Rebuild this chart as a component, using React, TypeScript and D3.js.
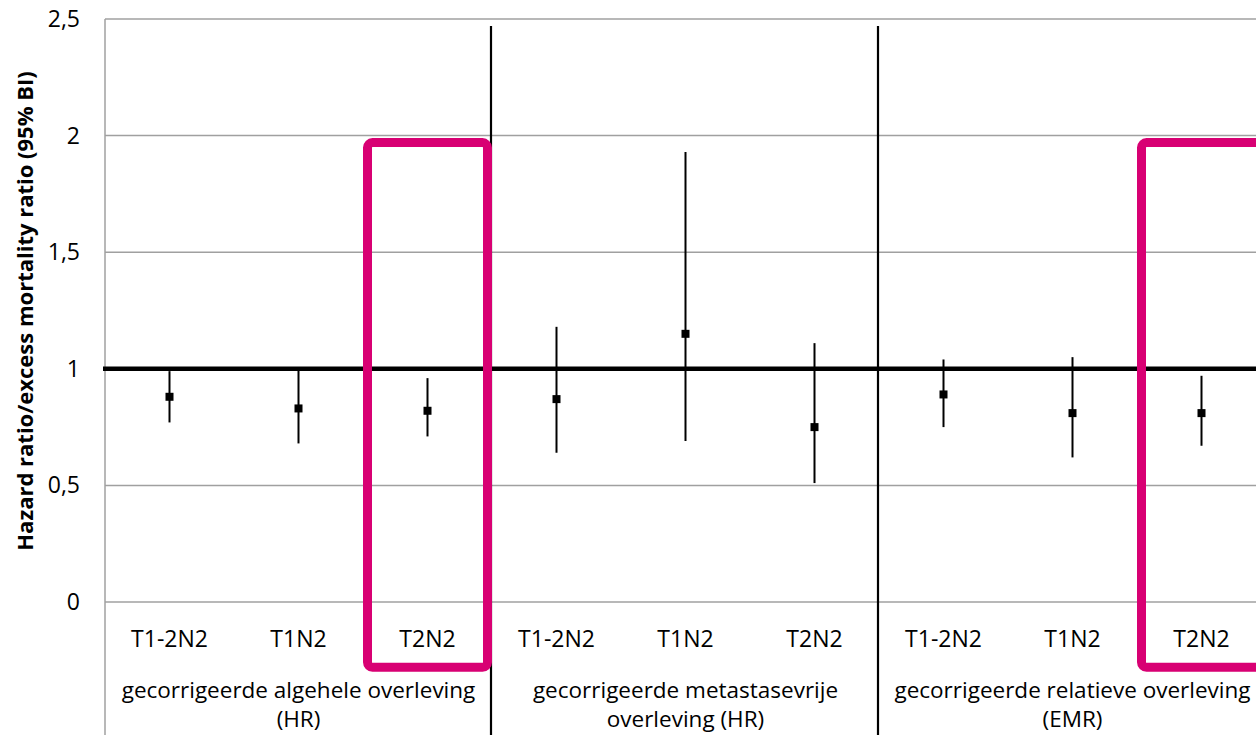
import React from "react";
import * as d3 from "d3";

// outcome groups (two-line labels, as in the source chart)
const groupLabels = [
  ["gecorrigeerde algehele overleving", "(HR)"],
  ["gecorrigeerde metastasevrije", "overleving (HR)"],
  ["gecorrigeerde relatieve overleving", "(EMR)"],
];
const subgroups = ["T1-2N2", "T1N2", "T2N2"];

// point estimates and 95% BI, in group order
const estimates = [0.88, 0.83, 0.82, 0.87, 1.15, 0.75, 0.89, 0.81, 0.81];
const lower = [0.77, 0.68, 0.71, 0.64, 0.69, 0.51, 0.75, 0.62, 0.67];
const upper = [0.99, 1.0, 0.96, 1.18, 1.93, 1.11, 1.04, 1.05, 0.97];

// categories marked with a pink frame
const highlighted = [2, 8];

const yTicks = [0, 0.5, 1, 1.5, 2, 2.5];
const yTickLabels = ["0", "0,5", "1", "1,5", "2", "2,5"];

const width = 1256;
const height = 735;
const font = "'Open Sans', sans-serif";

export default function App() {
  const left = 105;
  const catWidth = 129;
  const n = groupLabels.length * subgroups.length;

  const x = d3
    .scaleBand<number>()
    .domain(d3.range(n))
    .range([left, left + n * catWidth])
    .padding(0);
  const bw = x.bandwidth();
  const cx = (i: number) => (x(i) as number) + bw / 2;

  const y = d3.scaleLinear().domain([0, 2.5]).range([602, 19]);

  const groupX = (g: number) => left + g * subgroups.length * bw;
  const groupMid = (g: number) => groupX(g) + (subgroups.length * bw) / 2;

  return (
    <svg
      width={width}
      height={height}
      style={{ position: "absolute", left: 0, top: 0, background: "#fff" }}
      fontFamily={font}
    >
      {/* gridlines */}
      {yTicks.map((t) => (
        <line key={t} x1={left} x2={width} y1={y(t)} y2={y(t)} stroke="#a0a0a0" strokeWidth={1.5} />
      ))}
      {/* value axis line, continued down through the category area */}
      <line x1={left} x2={left} y1={y(2.5)} y2={height} stroke="#a0a0a0" strokeWidth={1.5} />

      {/* y tick labels */}
      {yTicks.map((t, i) => (
        <text key={t} x={80} y={y(t)} dy="0.35em" textAnchor="end" fontSize={23} fill="#000">
          {yTickLabels[i]}
        </text>
      ))}

      {/* y axis title */}
      <text
        transform={`translate(33,311) rotate(-90)`}
        textAnchor="middle"
        fontSize={22}
        fontWeight="bold"
        fill="#000"
      >
        Hazard ratio/excess mortality ratio (95% BI)
      </text>

      {/* reference line at 1 */}
      <line x1={left - 2} x2={width} y1={y(1)} y2={y(1)} stroke="#000" strokeWidth={4.5} />

      {/* group dividers */}
      {d3.range(1, groupLabels.length).map((g) => (
        <line key={g} x1={groupX(g) - 1} x2={groupX(g) - 1} y1={26} y2={height} stroke="#000" strokeWidth={2.2} />
      ))}

      {/* error bars and estimates */}
      {estimates.map((v, i) => (
        <g key={i}>
          <line x1={cx(i)} x2={cx(i)} y1={y(lower[i])} y2={y(upper[i])} stroke="#000" strokeWidth={2} />
          <rect x={cx(i) - 4} y={y(v) - 4} width={8} height={8} fill="#000" />
        </g>
      ))}

      {/* category labels */}
      {d3.range(n).map((i) => (
        <text key={i} x={cx(i)} y={647} textAnchor="middle" fontSize={23} fill="#000">
          {subgroups[i % subgroups.length]}
        </text>
      ))}

      {/* group labels, one text per line */}
      {groupLabels.map((lines, g) =>
        lines.map((l, k) => (
          <text key={`${g}-${k}`} x={groupMid(g)} y={698 + k * 29} textAnchor="middle" fontSize={22.5} fill="#000">
            {l}
          </text>
        ))
      )}

      {/* highlight frames */}
      {highlighted.map((i) => (
        <rect
          key={i}
          x={(x(i) as number) + 4.5}
          y={y(1.97)}
          width={bw - 9}
          height={y(-0.28) - y(1.97)}
          rx={5}
          fill="none"
          stroke="#d80073"
          strokeWidth={9}
        />
      ))}
    </svg>
  );
}
